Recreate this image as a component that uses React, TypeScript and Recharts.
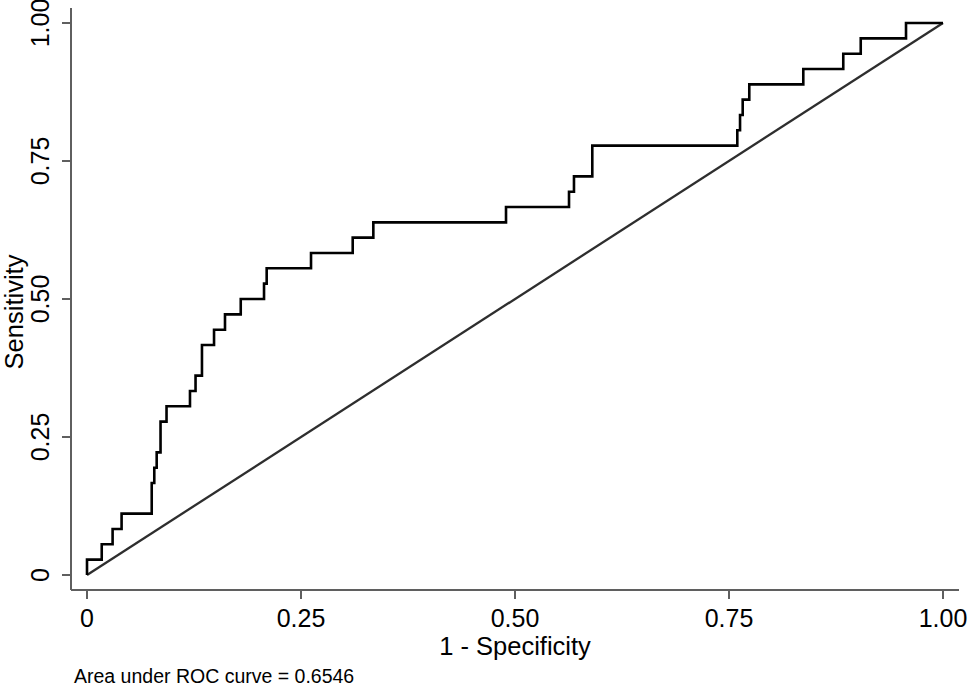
import React from 'react';
import { ComposedChart, Line, XAxis, YAxis, Label } from 'recharts';

const fprValues = [0, 0, 0.0172, 0.0299, 0.0404, 0.0756, 0.0786, 0.0814, 0.0859, 0.0929, 0.1203, 0.1268, 0.1343, 0.1484, 0.1612, 0.1796, 0.2068, 0.2099, 0.2617, 0.3104, 0.3345, 0.4895, 0.5631, 0.5689, 0.5903, 0.7597, 0.7629, 0.766, 0.7737, 0.8368, 0.8835, 0.9039, 0.9568, 1];
const sensValues = [0, 0.0278, 0.0556, 0.0833, 0.1111, 0.1667, 0.1944, 0.2222, 0.2778, 0.3056, 0.3333, 0.3611, 0.4167, 0.4444, 0.4722, 0.5, 0.5278, 0.5556, 0.5833, 0.6111, 0.6389, 0.6667, 0.6944, 0.7222, 0.7778, 0.8056, 0.8333, 0.8611, 0.8889, 0.9167, 0.9444, 0.9722, 1, 1];
const diagX = [0, 1];
const diagY = [0, 1];
const tickValues = [0, 0.25, 0.5, 0.75, 1];
const tickLabels = ['0', '0.25', '0.50', '0.75', '1.00'];
const xTitle = '1 - Specificity';
const yTitle = 'Sensitivity';
const aucNote = 'Area under ROC curve = 0.6546';

const rocData = fprValues.map((x, i) => ({ x, y: sensValues[i] }));
const diagData = diagX.map((x, i) => ({ x, y: diagY[i] }));

const FONT = '"Liberation Sans", Arial, sans-serif';
const AXIS_COLOR = '#5f5f5f';

const labelFor = (v: number) => tickLabels[tickValues.indexOf(v)] ?? String(v);

const YTick = (props: any) => {
  const { x, y, payload } = props;
  const bx = x - 3;
  return (
    <text
      x={bx}
      y={y}
      transform={`rotate(-90, ${bx}, ${y})`}
      textAnchor="middle"
      fontSize={25}
      fontFamily={FONT}
      fill="#000"
    >
      {labelFor(payload.value)}
    </text>
  );
};

export default function App() {
  return (
    <div style={{ position: 'absolute', left: 0, top: 0, width: 968, height: 687, background: '#fff' }}>
      <ComposedChart
        width={968}
        height={687}
        data={rocData}
        margin={{ top: 8, right: 9, left: 0, bottom: 0 }}
      >
        <XAxis
          dataKey="x"
          type="number"
          domain={[-0.0187, 1.0187]}
          allowDataOverflow
          ticks={tickValues}
          tickFormatter={labelFor}
          height={97}
          tickSize={9}
          tickMargin={10}
          stroke={AXIS_COLOR}
          strokeWidth={2}
          tick={{ fontSize: 25, fill: '#000', fontFamily: FONT }}
        >
          <Label
            content={(p: any) => {
              const vb = p.viewBox || { x: 71, y: 590, width: 889 };
              return (
                <text x={vb.x + vb.width / 2} y={655} textAnchor="middle" fontSize={25.5} fontFamily={FONT} fill="#000">
                  {xTitle}
                </text>
              );
            }}
          />
          <Label
            content={() => (
              <text x={74} y={683} textAnchor="start" fontSize={19.5} fontFamily={FONT} fill="#000">
                {aucNote}
              </text>
            )}
          />
        </XAxis>
        <YAxis
          dataKey="y"
          type="number"
          domain={[-0.02717, 1.02717]}
          allowDataOverflow
          ticks={tickValues}
          width={71}
          tickSize={9}
          tickMargin={10}
          stroke={AXIS_COLOR}
          strokeWidth={2}
          tick={<YTick />}
        >
          <Label
            content={() => (
              <text x={23} y={312} transform={`rotate(-90, 23, 312)`} textAnchor="middle" fontSize={25.5} fontFamily={FONT} fill="#000">
                {yTitle}
              </text>
            )}
          />
        </YAxis>
        <Line
          data={diagData}
          dataKey="y"
          type="linear"
          stroke="#2e2e2e"
          strokeWidth={2.3}
          dot={false}
          activeDot={false}
          isAnimationActive={false}
        />
        <Line
          data={rocData}
          dataKey="y"
          type="stepAfter"
          stroke="#000"
          strokeWidth={2.6}
          dot={false}
          activeDot={false}
          isAnimationActive={false}
        />
      </ComposedChart>
    </div>
  );
}
